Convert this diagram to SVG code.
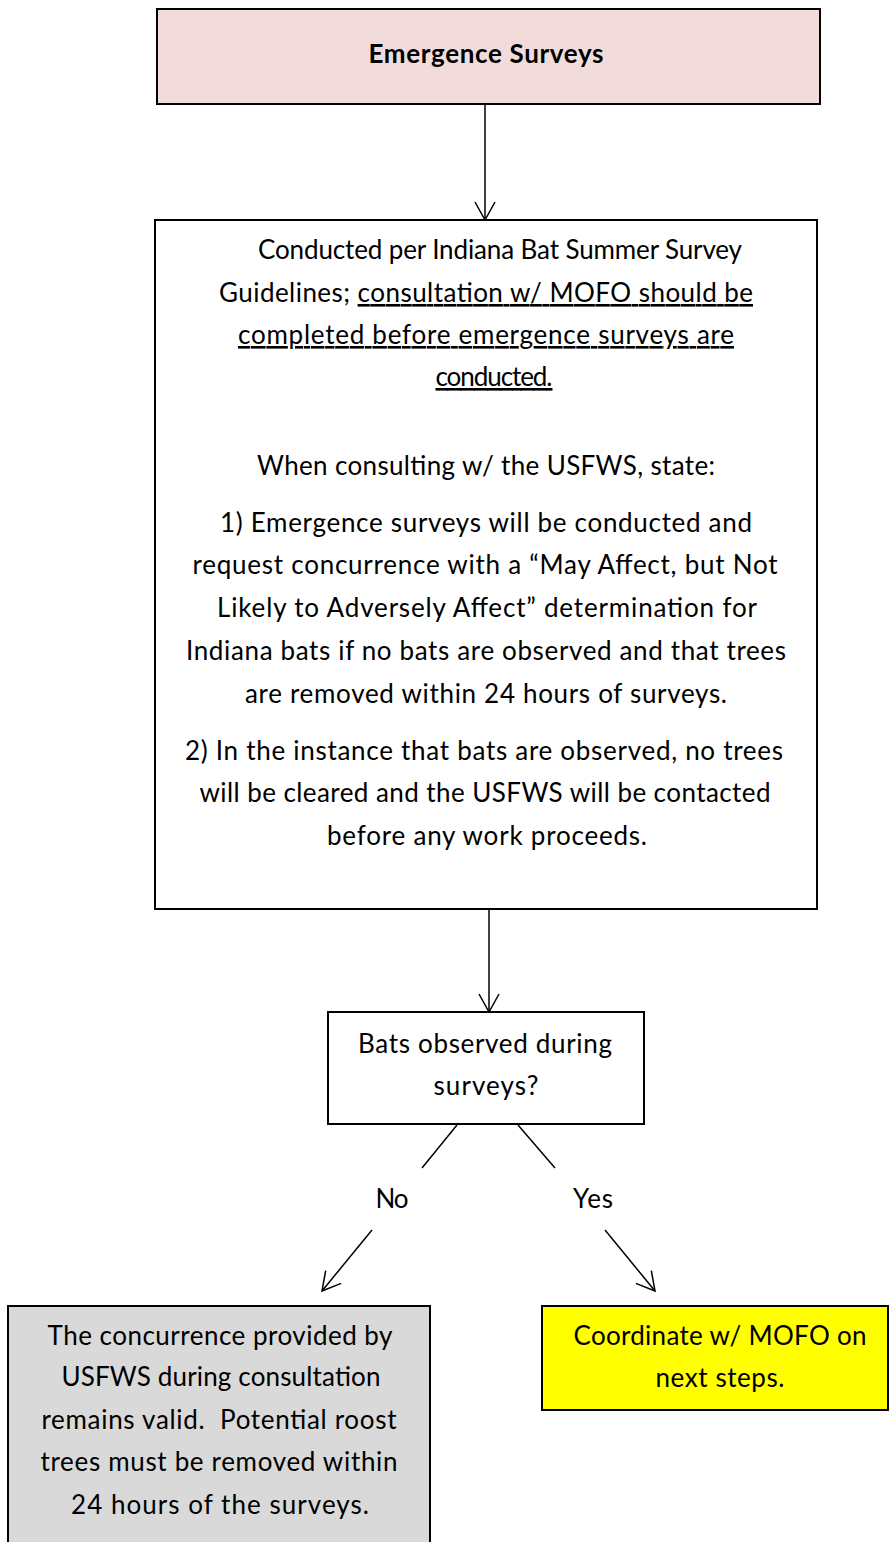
<svg xmlns="http://www.w3.org/2000/svg" width="889" height="1542" viewBox="0 0 889 1542">
<style>
.box{stroke:#000;stroke-width:2}
.t{font-family:Lato,"Liberation Sans",sans-serif;font-size:26px;fill:#000;text-anchor:middle}
.b{font-weight:bold}
.u{text-decoration:underline}
.c{stroke:#000;stroke-width:1.5;fill:none}
</style>
<defs>
<marker id="ah" markerUnits="userSpaceOnUse" markerWidth="22" markerHeight="24" viewBox="0 0 22 24" refX="20" refY="12" orient="auto">
<path d="M2,2 L20,12 L2,22" fill="none" stroke="#000" stroke-width="1.5"/>
</marker>
</defs>
<rect width="889" height="1542" fill="#fff"/>
<g id="connectors">
<line class="c" x1="485" y1="104" x2="485" y2="220" marker-end="url(#ah)"/>
<line class="c" x1="489" y1="909" x2="489" y2="1012" marker-end="url(#ah)"/>
<line class="c" x1="457" y1="1125" x2="422" y2="1168"/>
<line class="c" x1="518" y1="1125" x2="555" y2="1168"/>
<line class="c" x1="372" y1="1230" x2="322" y2="1291" marker-end="url(#ah)"/>
<line class="c" x1="605" y1="1230" x2="655" y2="1291" marker-end="url(#ah)"/>
<text class="t" x="392" y="1208" textLength="33">No</text>
<text class="t" x="593" y="1208" textLength="40">Yes</text>
</g>
<g id="title">
<rect class="box" x="157" y="9" width="663" height="95" fill="#f2dcdb"/>
<text class="t b" x="486" y="63" textLength="235">Emergence Surveys</text>
</g>
<g id="procedure">
<rect class="box" x="155" y="220" width="662" height="689" fill="#fff"/>
<text class="t" x="500" y="259" textLength="484">Conducted per Indiana Bat Summer Survey</text>
<text class="t" x="486" y="302" textLength="534">Guidelines; <tspan class="u">consultation w/ MOFO should be</tspan></text>
<text class="t u" x="486" y="344" textLength="496">completed before emergence surveys are</text>
<text class="t u" x="494" y="386" textLength="117">conducted.</text>
<text class="t" x="486" y="475" textLength="458">When consulting w/ the USFWS, state:</text>
<text class="t" x="486" y="532" textLength="532">1) Emergence surveys will be conducted and</text>
<text class="t" x="485" y="574" textLength="585">request concurrence with a “May Affect, but Not</text>
<text class="t" x="487" y="617" textLength="540">Likely to Adversely Affect” determination for</text>
<text class="t" x="486" y="660" textLength="600">Indiana bats if no bats are observed and that trees</text>
<text class="t" x="486" y="703" textLength="482">are removed within 24 hours of surveys.</text>
<text class="t" x="484" y="760" textLength="598">2) In the instance that bats are observed, no trees</text>
<text class="t" x="485" y="802" textLength="571">will be cleared and the USFWS will be contacted</text>
<text class="t" x="487" y="845" textLength="320">before any work proceeds.</text>
</g>
<g id="decision">
<rect class="box" x="328" y="1012" width="316" height="112" fill="#fff"/>
<text class="t" x="485" y="1053" textLength="254">Bats observed during</text>
<text class="t" x="486" y="1095" textLength="105">surveys?</text>
</g>
<g id="no-outcome">
<rect class="box" x="8" y="1306" width="422" height="240" fill="#d9d9d9"/>
<text class="t" x="220" y="1345" textLength="345">The concurrence provided by</text>
<text class="t" x="221" y="1386" textLength="319">USFWS during consultation</text>
<text class="t" x="219" y="1429" textLength="355">remains valid.&#160; Potential roost</text>
<text class="t" x="219" y="1471" textLength="357">trees must be removed within</text>
<text class="t" x="220" y="1514" textLength="298">24 hours of the surveys.</text>
</g>
<g id="yes-outcome">
<rect class="box" x="542" y="1306" width="346" height="104" fill="#ffff00"/>
<text class="t" x="720" y="1345" textLength="293">Coordinate w/ MOFO on</text>
<text class="t" x="720" y="1387" textLength="129">next steps.</text>
</g>
</svg>
